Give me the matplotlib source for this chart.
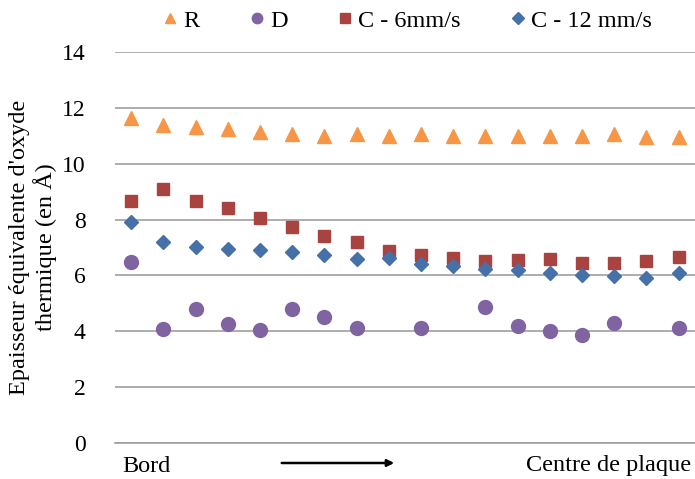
import numpy as np
import matplotlib
matplotlib.use("Agg")
import matplotlib.pyplot as plt

# values, 18 positions from edge to centre
r_vals = [11.65, 11.4, 11.31, 11.24, 11.12, 11.06, 11.0, 11.06, 11.0,
          11.05, 11.0, 11.0, 11.0, 11.0, 10.99, 11.06, 10.97, 10.96]
d_vals = [6.47, 4.07, 4.80, 4.25, 4.06, 4.78, 4.52, 4.12, np.nan,
          4.12, np.nan, 4.87, 4.20, 4.01, 3.88, 4.31, np.nan, 4.12]
c6_vals = [8.68, 9.11, 8.68, 8.41, 8.06, 7.72, 7.40, 7.19, 6.89,
           6.74, 6.64, 6.50, 6.55, 6.58, 6.45, 6.46, 6.51, 6.67]
c12_vals = [7.92, 7.19, 7.02, 6.94, 6.92, 6.84, 6.73, 6.58, 6.64,
            6.41, 6.32, 6.22, 6.20, 6.07, 6.03, 5.97, 5.91, 6.09]

labels = ["R", "D", "C - 6mm/s", "C - 12 mm/s"]
yticks = [0, 2, 4, 6, 8, 10, 12, 14]

plt.rcParams['font.family'] = ['Liberation Serif', 'DejaVu Serif']

fig = plt.figure(figsize=(6.95, 4.79), dpi=100)
ax = fig.add_axes([0.1655, 0.0752, 0.834, 0.8162])

x = np.arange(len(r_vals))
ax.plot(x, r_vals, ls="none", marker="^", ms=10, color="#F79646", label=labels[0])
ax.plot(x, d_vals, ls="none", marker="o", ms=10, color="#8064A2", label=labels[1])
ax.plot(x, c6_vals, ls="none", marker="s", ms=9, color="#A8433F", label=labels[2])
ax.plot(x, c12_vals, ls="none", marker="D", ms=7.5, color="#4571A8", label=labels[3])

ax.set_xlim(-0.5, len(r_vals) - 0.5)
ax.set_ylim(0, 14)
ax.set_yticks(yticks)
ax.set_xticks([])
ax.tick_params(axis="y", length=0, labelsize=17, pad=21)
ax.grid(axis="y", color="#A0A0A0", lw=1.2)
ax.set_axisbelow(True)
for s in ["top", "right", "left"]:
    ax.spines[s].set_visible(False)
ax.spines["bottom"].set_color("#A0A0A0")
ax.spines["bottom"].set_linewidth(1.2)

ax.set_ylabel("Epaisseur équivalente d'oxyde\nthermique (en Å)", fontsize=17.5, labelpad=4,
              linespacing=1.15)

leg = fig.legend(loc="upper center", bbox_to_anchor=(0.586, 1.025), ncol=4, frameon=False,
                 fontsize=17.5, handlelength=0.6, handletextpad=0.25, columnspacing=2.05,
                 markerscale=0.75)

# text under the axis
fig.text(122 / 695, 1 - 466 / 479, "Bord", fontsize=17.5, va="center", ha="left")
fig.text(691 / 695, 1 - 466 / 479, "Centre de plaque", fontsize=17.5, va="center", ha="right")
fig.add_artist(matplotlib.patches.FancyArrowPatch((279 / 695, 1 - 463 / 479), (397 / 695, 1 - 463 / 479),
                                                  transform=fig.transFigure, arrowstyle="-|>",
                                                  mutation_scale=10, lw=1.8, color="black"))

fig.savefig("out.png", dpi=100)
